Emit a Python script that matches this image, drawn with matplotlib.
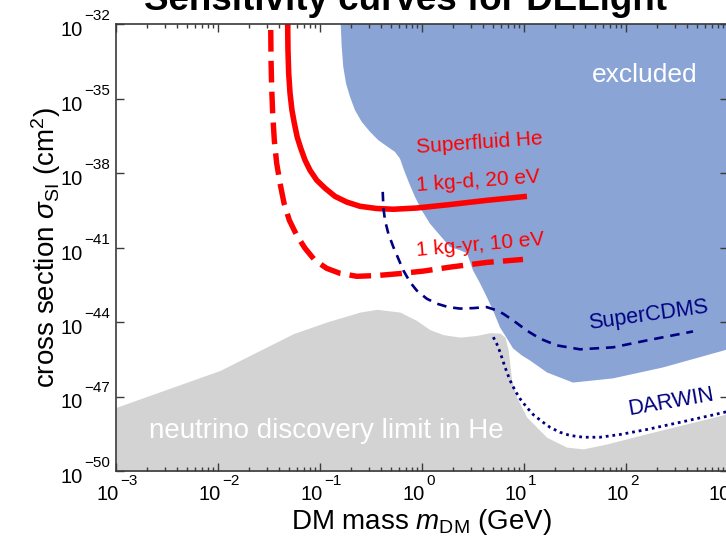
import numpy as np
import matplotlib
matplotlib.use("Agg")
import matplotlib.pyplot as plt

plt.rcParams["font.family"] = ["Liberation Sans", "DejaVu Sans"]
plt.rcParams["mathtext.fontset"] = "custom"
plt.rcParams["mathtext.rm"] = "Liberation Sans"
plt.rcParams["mathtext.it"] = "Liberation Sans:italic"
plt.rcParams["mathtext.bf"] = "Liberation Sans:bold"

# Axis ranges in decades
x_decades = (-3, 3)
y_decades = (-50, -32)
x_tick_exps = [-3, -2, -1, 0, 1, 2, 3]
y_tick_exps = [-50, -47, -44, -41, -38, -35, -32]

# Excluded region boundary: log10(mass / GeV), log10(sigma / cm^2)
excl_logm = [-0.797, -0.787, -0.772, -0.745, -0.706, -0.657, -0.591, -0.510,
             -0.428, -0.346, -0.265, -0.216, -0.176, -0.125, -0.069, -0.003,
             0.078, 0.176, 0.275, 0.373, 0.441, 0.500, 0.569, 0.637, 0.696,
             0.765, 0.833, 0.892, 0.980, 1.059, 1.225, 1.480, 1.873, 2.363, 3.0]
excl_logsig = [-32.0, -32.92, -33.72, -34.39, -34.93, -35.47, -35.94, -36.34,
               -36.68, -36.92, -37.15, -37.42, -37.89, -38.42, -38.96, -39.50,
               -40.04, -40.51, -40.98, -41.11, -41.23, -41.92, -42.44, -43.01,
               -43.53, -44.22, -44.66, -45.06, -45.35, -45.55, -46.03, -46.44,
               -46.27, -45.83, -45.10]

# Neutrino discovery limit in helium
nu_logm = [-3.0, -1.980, -1.262, -0.934, -0.608, -0.444, -0.216, -0.052, 0.078,
           0.209, 0.373, 0.536, 0.667, 0.765, 0.814, 0.846, 0.879, 0.928,
           1.026, 1.222, 1.419, 1.581, 1.811, 2.203, 3.0]
nu_logsig = [-47.44, -45.95, -44.47, -44.00, -43.60, -43.49, -43.60, -43.94,
             -44.31, -44.51, -44.61, -44.54, -44.43, -44.45, -44.61, -45.15,
             -46.35, -47.03, -47.83, -48.64, -49.04, -49.11, -48.91, -48.50,
             -47.69]

# Superfluid He projection: 1 kg-d exposure, 20 eV threshold
day_logm = [-1.317, -1.317, -1.314, -1.307, -1.294, -1.275, -1.252, -1.223,
            -1.189, -1.147, -1.098, -1.032, -0.951, -0.853, -0.738, -0.608,
            -0.444, -0.281, -0.052, 0.275, 0.637, 1.029]
day_logsig = [-31.0, -32.0, -33.05, -33.98, -34.78, -35.47, -35.99, -36.56,
              -37.00, -37.48, -37.89, -38.29, -38.61, -38.94, -39.17, -39.34,
              -39.43, -39.46, -39.41, -39.27, -39.10, -38.94]

# Superfluid He projection: 1 kg-yr exposure, 10 eV threshold
yr_logm = [-1.483, -1.480, -1.474, -1.464, -1.448, -1.425, -1.392, -1.353,
           -1.301, -1.228, -1.147, -1.049, -0.934, -0.804, -0.640, -0.444,
           -0.216, 0.013, 0.275, 0.637, 0.990]
yr_logsig = [-32.24, -33.45, -34.53, -35.59, -36.68, -37.60, -38.41, -39.21,
             -39.90, -40.51, -41.03, -41.52, -41.84, -42.04, -42.16, -42.13,
             -42.05, -41.95, -41.79, -41.60, -41.48]

# SuperCDMS projection
cdms_logm = [-0.385, -0.379, -0.363, -0.330, -0.281, -0.232, -0.183, -0.118,
             -0.052, 0.046, 0.144, 0.258, 0.373, 0.503, 0.634, 0.732, 0.797,
             0.895, 1.026, 1.157, 1.320, 1.549, 1.873, 2.206, 2.657]
cdms_logsig = [-38.76, -39.37, -39.90, -40.44, -40.98, -41.45, -41.92, -42.39,
               -42.73, -43.06, -43.26, -43.40, -43.46, -43.44, -43.40, -43.53,
               -43.67, -43.94, -44.34, -44.67, -44.94, -45.10, -45.02, -44.74,
               -44.38]

# DARWIN projection
darwin_logm = [0.699, 0.732, 0.765, 0.814, 0.863, 0.912, 0.961, 1.026, 1.091,
               1.174, 1.255, 1.353, 1.451, 1.582, 1.745, 1.941, 2.203, 2.529,
               2.856, 3.0]
darwin_logsig = [-44.61, -44.87, -45.21, -45.82, -46.35, -46.76, -47.09, -47.43,
                 -47.73, -48.00, -48.24, -48.44, -48.57, -48.64, -48.64, -48.53,
                 -48.33, -48.04, -47.74, -47.60]

BLUE = "#8aa4d6"
GREY = "#d3d3d3"
RED = "#ff0000"
NAVY = "#000080"


def p10(v):
    return np.power(10.0, np.asarray(v, dtype=float))


fig = plt.figure(figsize=(7.26, 5.36), dpi=100)
ax = fig.add_axes([116 / 726, 1 - 471 / 536, 612 / 726, 447 / 536])
ax.set_xscale("log")
ax.set_yscale("log")
ax.set_xlim(p10(x_decades[0]), p10(x_decades[1]))
ax.set_ylim(p10(y_decades[0]), p10(y_decades[1]))

# excluded region: boundary closed through the upper-right corner
ex_x = list(excl_logm) + [x_decades[1] + 0.2, x_decades[1] + 0.2, excl_logm[0]]
ex_y = list(excl_logsig) + [excl_logsig[-1], y_decades[1] + 1, y_decades[1] + 1]
ax.fill(p10(ex_x), p10(ex_y), color=BLUE, lw=0, zorder=1.5)

# neutrino floor
ax.fill_between(p10(nu_logm), p10(nu_logsig), p10(y_decades[0] - 1),
                color=GREY, lw=0, zorder=1)

ax.plot(p10(day_logm), p10(day_logsig), color=RED, lw=4.0,
        solid_capstyle="butt", solid_joinstyle="round", zorder=3)
ax.plot(p10(yr_logm), p10(yr_logsig), color=RED, lw=3.9,
        linestyle=(0, (4.0, 1.7)), dash_capstyle="butt", zorder=3)
ax.plot(p10(cdms_logm), p10(cdms_logsig), color=NAVY, lw=1.9,
        linestyle=(0, (3.6, 2.6)), zorder=3)
ax.plot(p10(darwin_logm), p10(darwin_logsig), color=NAVY, lw=2.0,
        linestyle=(0, (1.0, 1.4)), zorder=3)

# annotations
ax.text(p10(0.56), p10(-36.78), "Superfluid He", color=RED, fontsize=15,
        rotation=4, ha="center", va="center", zorder=4)
ax.text(p10(0.55), p10(-38.33), "1 kg-d, 20 eV", color=RED, fontsize=15,
        rotation=4, ha="center", va="center", zorder=4)
ax.text(p10(0.57), p10(-40.9), "1 kg-yr, 10 eV", color=RED, fontsize=15,
        rotation=5, ha="center", va="center", zorder=4)
ax.text(p10(2.216), p10(-43.73), "SuperCDMS", color=NAVY, fontsize=15.5,
        rotation=8, ha="center", va="center", zorder=4)
ax.text(p10(2.44), p10(-47.24), "DARWIN", color=NAVY, fontsize=15.5,
        rotation=10, ha="center", va="center", zorder=4)
ax.text(p10(2.186), p10(-34.05), "excluded", color="white", fontsize=19,
        ha="center", va="center", zorder=4)
ax.text(p10(-0.94), p10(-48.37), "neutrino discovery limit in He", color="white",
        fontsize=20, ha="center", va="center", zorder=4)

# axes frame and ticks
for sp in ax.spines.values():
    sp.set_color("#3a3a3a")
    sp.set_linewidth(1.2)
    sp.set_zorder(5)
ax.set_xticks(p10(x_tick_exps))
ax.set_yticks(p10(y_tick_exps))
ax.yaxis.set_minor_locator(matplotlib.ticker.NullLocator())
ax.xaxis.set_minor_locator(matplotlib.ticker.LogLocator(base=10, subs=np.arange(2, 10)))
ax.xaxis.set_major_formatter(matplotlib.ticker.NullFormatter())
ax.xaxis.set_minor_formatter(matplotlib.ticker.NullFormatter())
ax.yaxis.set_major_formatter(matplotlib.ticker.NullFormatter())
ax.tick_params(which="both", direction="in", top=True, right=True,
               color="#3a3a3a", width=1.0)
ax.tick_params(which="major", length=6)
ax.tick_params(which="minor", length=3)
ax.set_axisbelow(False)

MINUS = "\u2212"


def exp_text(e):
    return (MINUS + str(-e)) if e < 0 else str(e)


for e in x_tick_exps:
    ax.annotate("10", xy=(p10(e), 0), xycoords=("data", "axes fraction"),
                xytext=(3, -29), textcoords="offset pixels", ha="right",
                va="baseline", fontsize=14.5, annotation_clip=False)
    ax.annotate(exp_text(e), xy=(p10(e), 0), xycoords=("data", "axes fraction"),
                xytext=(4, -14), textcoords="offset pixels", ha="left",
                va="baseline", fontsize=11, annotation_clip=False)

for e in y_tick_exps:
    ax.annotate("10", xy=(0, p10(e)), xycoords=("axes fraction", "data"),
                xytext=(-33, -12), textcoords="offset pixels", ha="right",
                va="baseline", fontsize=14.5, annotation_clip=False)
    ax.annotate(exp_text(e), xy=(0, p10(e)), xycoords=("axes fraction", "data"),
                xytext=(-6, 4), textcoords="offset pixels", ha="right",
                va="baseline", fontsize=11, annotation_clip=False)

ax.set_xlabel(r"DM mass $m_{\rm DM}$ (GeV)", fontsize=20, va="baseline")
ax.xaxis.set_label_coords(0.5, -(529 - 471) / 447)
ax.set_ylabel(r"cross section $\sigma_{\rm SI}$ (cm$^2$)", fontsize=20,
              va="baseline")
ax.yaxis.set_label_coords(-(116 - 55) / 612, 0.5)

fig.text(405 / 726, 1 - 10.5 / 536, "Sensitivity curves for DELight",
         ha="center", va="baseline", fontsize=26.5, fontweight="bold")

fig.savefig("out.png", dpi=100)
